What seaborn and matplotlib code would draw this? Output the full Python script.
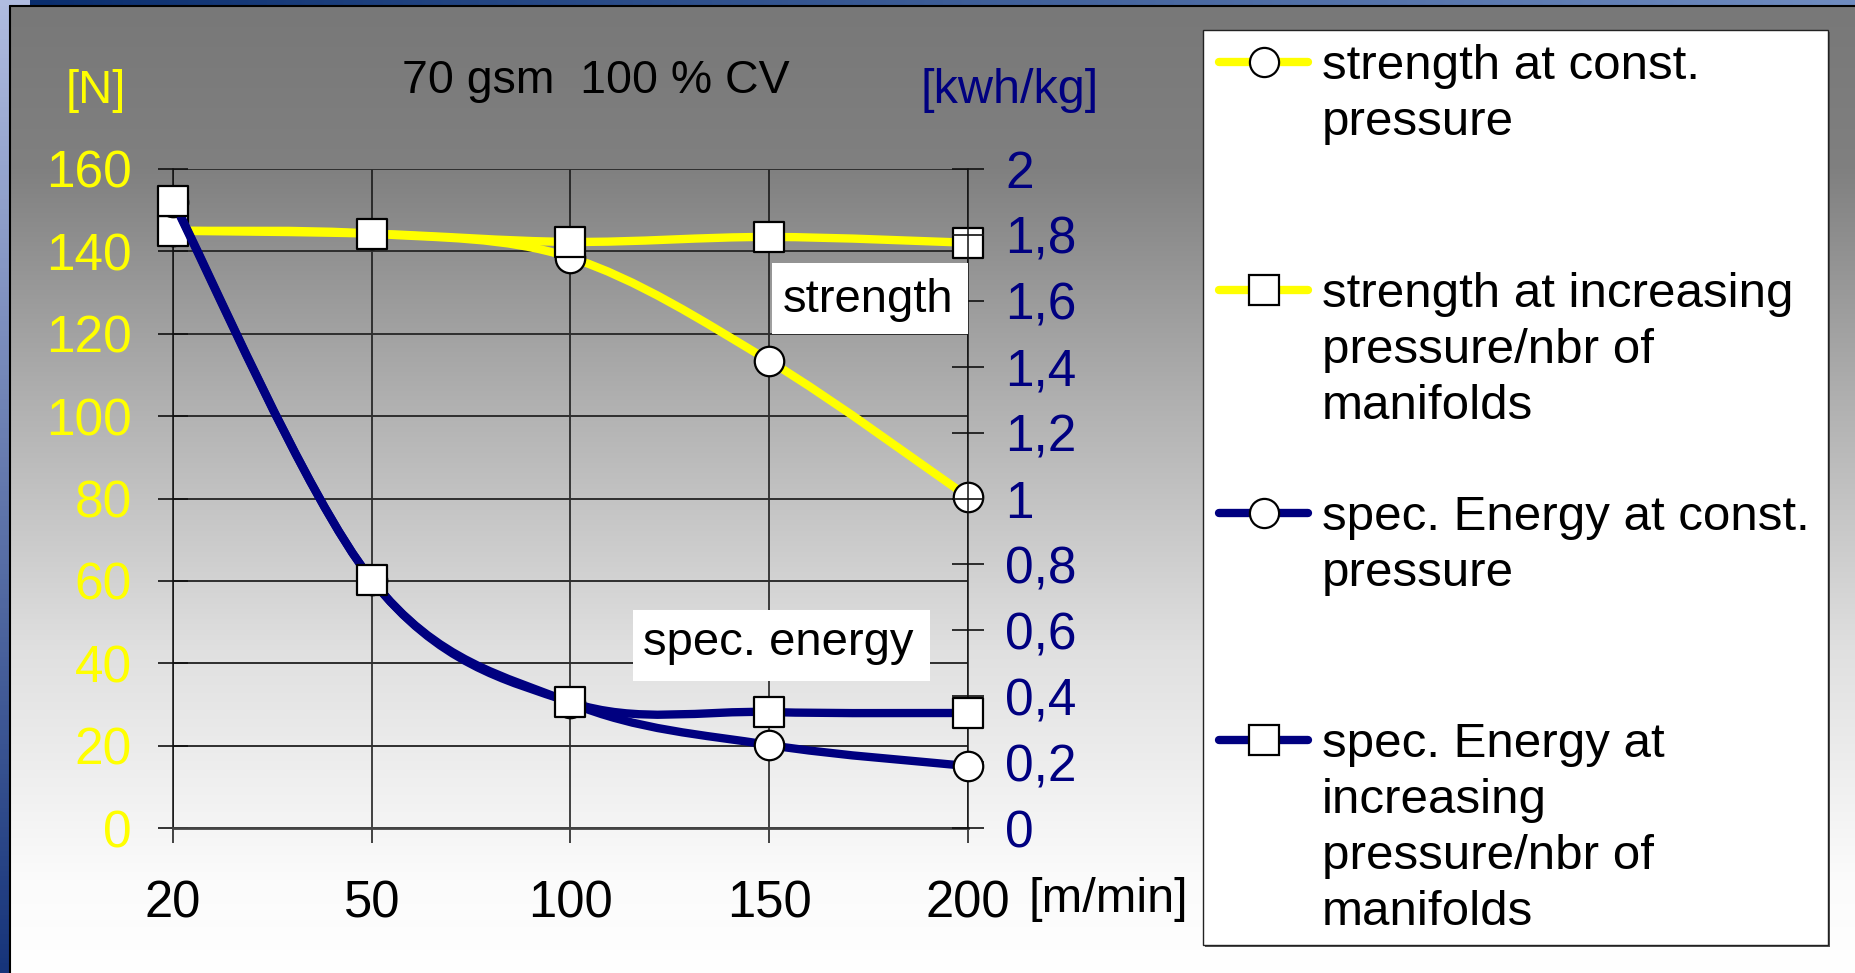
import numpy as np
import pandas as pd
import seaborn as sns
import matplotlib.pyplot as plt
from matplotlib.path import Path
from matplotlib.patches import PathPatch, Rectangle
from matplotlib.lines import Line2D

# data
speeds = ["20", "50", "100", "150", "200"]
strength_const = [145, 144.3, 138.5, 113.4, 80.4]
strength_incr = [145, 144.3, 142.3, 143.5, 142.1]
energy_const = [1.9, 0.753, 0.38, 0.252, 0.188]
energy_incr = [1.904, 0.753, 0.382, 0.352, 0.349]

left_ticks = [0, 20, 40, 60, 80, 100, 120, 140, 160]
right_ticks = [0, 0.2, 0.4, 0.6, 0.8, 1.0, 1.2, 1.4, 1.6, 1.8, 2.0]
right_tick_labels = ["0", "0,2", "0,4", "0,6", "0,8", "1", "1,2", "1,4", "1,6", "1,8", "2"]

legend_labels = [
    "strength at const.\npressure",
    "strength at increasing\npressure/nbr of\nmanifolds",
    "spec. Energy at const.\npressure",
    "spec. Energy at\nincreasing\npressure/nbr of\nmanifolds",
]

YELLOW = "#FFFF00"
NAVY = "#000080"

df = pd.DataFrame({
    "speed": speeds,
    "pos": np.arange(len(speeds)),
    "strength_const": strength_const,
    "strength_incr": strength_incr,
    "energy_const": energy_const,
    "energy_incr": energy_incr,
})

sns.set_theme(style="white")
plt.rcParams["font.family"] = ["Liberation Sans", "DejaVu Sans"]

W, H = 1856, 973
fig = plt.figure(figsize=(W / 100, H / 100), dpi=100)


def fx(px):
    return px / W


def fy(py):
    return 1 - py / H


# background: gray-to-white gradient with the blue frame strips
bg = fig.add_axes([0, 0, 1, 1], zorder=-1)
bg.axis("off")
rows = np.arange(6, H)
shade = np.interp(rows, [6, 169, 400, 650, 880, 973], [120, 128, 176, 224, 251, 255]) / 255
grad = np.dstack([np.repeat(shade[:, None], 2, axis=1)] * 3)
bg.imshow(grad, extent=(10, W, H, 6), aspect="auto", interpolation="bilinear")

t = np.linspace(0, 1, 200)[:, None]
c_top = np.array([0xb0, 0xbc, 0xe0]) / 255
c_bot = np.array([0x16, 0x34, 0x7a]) / 255
left_strip = (c_top * (1 - t) + c_bot * t)[:, None, :]
bg.imshow(np.repeat(left_strip, 2, axis=1), extent=(0, 10, H, 0), aspect="auto")
c_l = np.array([0x0a, 0x2e, 0x6e]) / 255
c_r = np.array([0x70, 0x8c, 0xc0]) / 255
top_strip = (c_l * (1 - t) + c_r * t)[None, :, :]
bg.imshow(np.repeat(top_strip, 2, axis=0), extent=(30, W, 6, 0), aspect="auto")
bg.add_patch(Rectangle((0, 0), 30, 6, facecolor="#b0bce0", edgecolor="none"))
bg.plot([10, 10], [6, H], color="black", lw=1.5)
bg.plot([10, W], [6, 6], color="black", lw=1.5)
bg.set_xlim(0, W)
bg.set_ylim(H, 0)

# main axes
ax = fig.add_axes([fx(173), fy(828), fx(968) - fx(173), fy(169) - fy(828)])
ax.patch.set_alpha(0)
ax2 = ax.twinx()
ax2.patch.set_alpha(0)


def smooth_path(xs, ys):
    # Excel-style smoothed line: cubic Bezier segments through the points
    pts = np.column_stack([xs, ys]).astype(float)
    n = len(pts)
    verts = [pts[0]]
    codes = [Path.MOVETO]
    for i in range(n - 1):
        p0 = pts[max(i - 1, 0)]
        p1 = pts[i]
        p2 = pts[i + 1]
        p3 = pts[min(i + 2, n - 1)]
        verts += [p1 + (p2 - p0) / 6, p2 - (p3 - p1) / 6, p2]
        codes += [Path.CURVE4] * 3
    return Path(verts, codes)


def draw_series(axis, col, color, marker, z):
    line = PathPatch(smooth_path(df["pos"], df[col]), facecolor="none", edgecolor=color,
                     lw=6, capstyle="round", joinstyle="round", zorder=z, clip_on=False)
    axis.add_patch(line)
    sns.scatterplot(data=df, x="pos", y=col, marker=marker, s=450, color="white",
                    edgecolor="black", linewidth=1.6, ax=axis, zorder=z + 0.5, clip_on=False)


draw_series(ax, "strength_const", YELLOW, "o", 3)
draw_series(ax, "strength_incr", YELLOW, "s", 4)
draw_series(ax2, "energy_const", NAVY, "o", 3)
draw_series(ax2, "energy_incr", NAVY, "s", 4)

ax.set_xlim(0, 4)
ax.set_ylim(0, 160)
ax2.set_ylim(0, 2)
ax.set_xlabel("")
ax.set_ylabel("")
ax2.set_xlabel("")
ax2.set_ylabel("")

ax.set_xticks(df["pos"])
ax.set_xticklabels(speeds)
ax.set_yticks(left_ticks)
ax2.set_yticks(right_ticks)
ax2.set_yticklabels(right_tick_labels)

ax.set_axisbelow(True)
ax.grid(axis="y", color="#2e2e2e", lw=1.4)
ax.grid(axis="x", color="#111111", lw=1.1)
ax2.grid(False)

for s in ["top", "right"]:
    ax.spines[s].set_visible(False)
ax.spines["left"].set_color("#111111")
ax.spines["left"].set_linewidth(1.1)
ax.spines["bottom"].set_color("#444444")
ax.spines["bottom"].set_linewidth(2)
for s in ["top", "left", "bottom"]:
    ax2.spines[s].set_visible(False)
ax2.spines["right"].set_color("#111111")
ax2.spines["right"].set_linewidth(1.1)

ax.tick_params(axis="x", direction="out", length=11, width=1.1, color="#111111",
               pad=26, labelsize=36.5, labelcolor="black", bottom=True)
ax.tick_params(axis="y", direction="inout", length=22, width=1.2, color="#111111",
               pad=18.5, labelsize=37, labelcolor=YELLOW, left=True)
ax2.tick_params(axis="y", direction="inout", length=23, width=1.2, color="#111111",
                pad=15.5, labelsize=37, labelcolor=NAVY, right=True)

# titles and units
fig.text(fx(596), fy(93), "70 gsm  100 % CV", ha="center", va="baseline", fontsize=33.5, color="black")
fig.text(fx(96), fy(103), "[N]", ha="center", va="baseline", fontsize=34, color=YELLOW)
fig.text(fx(1010), fy(103), "[kwh/kg]", ha="center", va="baseline", fontsize=35, color=NAVY)
fig.text(fx(1028), fy(912), "[m/min]", ha="left", va="baseline", fontsize=35, color="black")

# annotation boxes
fig.add_artist(Rectangle((fx(772), fy(334)), fx(968) - fx(772), fy(263) - fy(334),
                         transform=fig.transFigure, facecolor="white", edgecolor="none", zorder=2))
fig.text(fx(783), fy(312), "strength", ha="left", va="baseline", fontsize=34, color="black", zorder=3)
fig.add_artist(Rectangle((fx(633), fy(681)), fx(930) - fx(633), fy(610) - fy(681),
                         transform=fig.transFigure, facecolor="white", edgecolor="none", zorder=2))
fig.text(fx(643), fy(655), "spec. energy", ha="left", va="baseline", fontsize=34, color="black", zorder=3)

# legend
fig.add_artist(Rectangle((fx(1205), fy(947)), fx(1830) - fx(1205), fy(32) - fy(947),
                         transform=fig.transFigure, facecolor="#555555", edgecolor="none", zorder=2))
fig.add_artist(Rectangle((fx(1203), fy(945)), fx(1828) - fx(1203), fy(30) - fy(945),
                         transform=fig.transFigure, facecolor="white", edgecolor="#222222",
                         lw=1, zorder=2))
entry_y = [62, 290, 513, 740]
entry_style = [(YELLOW, "o"), (YELLOW, "s"), (NAVY, "o"), (NAVY, "s")]
for y, (color, marker), label in zip(entry_y, entry_style, legend_labels):
    fig.add_artist(Line2D([fx(1219), fx(1308)], [fy(y), fy(y)], transform=fig.transFigure,
                          color=color, lw=6, solid_capstyle="round", zorder=3))
    fig.add_artist(Line2D([fx(1264)], [fy(y)], transform=fig.transFigure, marker=marker,
                          markersize=21, markerfacecolor="white", markeredgecolor="black",
                          markeredgewidth=1.6, linestyle="none", zorder=4))
    for k, part in enumerate(label.split("\n")):
        fig.text(fx(1322), fy(y + 17 + 56 * k), part, ha="left", va="baseline",
                 fontsize=35.5, color="black", zorder=4)

fig.savefig("out.png", dpi=100)
